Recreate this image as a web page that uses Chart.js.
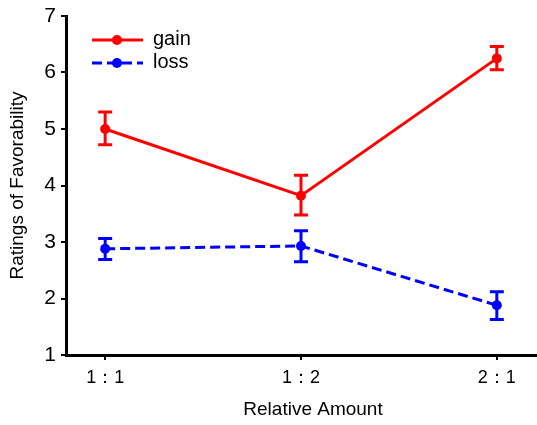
<!DOCTYPE html>
<html>
<head>
<meta charset="utf-8">
<script src="https://cdn.jsdelivr.net/npm/chart.js@4/dist/chart.umd.min.js"></script>
<style>
  html, body { margin: 0; padding: 0; background: #fff; }
  #wrap { width: 537px; height: 425px; }
</style>
</head>
<body>
<div id="wrap"><canvas id="chart" width="537" height="425"></canvas></div>
<script>
// categories on the x axis
const categories = ["1\uFF1A1", "1\uFF1A2", "2\uFF1A1"];
// mean ratings
const gainValues = [5.0, 3.82, 6.25];
const lossValues = [2.88, 2.93, 1.88];
// error bar ends
const gainLow = [4.72, 3.48, 6.05];
const gainHigh = [5.3, 4.18, 6.46];
const lossLow = [2.69, 2.65, 1.63];
const lossHigh = [3.06, 3.2, 2.12];
const yTicks = [1, 2, 3, 4, 5, 6, 7];
const xTitle = "Relative Amount";

const FONT = "Liberation Sans, Arial, sans-serif";

// draws the vertical error bars with caps
const errorBars = {
  id: "errorBars",
  afterDatasetsDraw(chart) {
    const ctx = chart.ctx;
    const xs = chart.scales.x, ys = chart.scales.y;
    chart.data.datasets.forEach(ds => {
      ctx.save();
      ctx.strokeStyle = ds.borderColor;
      ctx.lineWidth = 3;
      ds.data.forEach((p, i) => {
        const x = xs.getPixelForValue(p.x);
        const yl = ys.getPixelForValue(ds.low[i]);
        const yh = ys.getPixelForValue(ds.high[i]);
        ctx.beginPath();
        ctx.moveTo(x, yl); ctx.lineTo(x, yh);
        ctx.moveTo(x - 7, yl); ctx.lineTo(x + 7, yl);
        ctx.moveTo(x - 7, yh); ctx.lineTo(x + 7, yh);
        ctx.stroke();
      });
      ctx.restore();
    });
  }
};

// legend drawn inside the plot, top left, plus the x title (sits right of centre)
const innerLegend = {
  id: "innerLegend",
  afterDraw(chart) {
    const ctx = chart.ctx;
    chart.data.datasets.forEach((ds, i) => {
      const y = 40 + i * 23;
      ctx.save();
      ctx.strokeStyle = ds.borderColor;
      ctx.fillStyle = ds.borderColor;
      ctx.lineWidth = 3;
      ctx.setLineDash(ds.borderDash || []);
      ctx.beginPath();
      ctx.moveTo(92, y); ctx.lineTo(143, y);
      ctx.stroke();
      ctx.setLineDash([]);
      ctx.beginPath();
      ctx.arc(117, y, 5, 0, Math.PI * 2);
      ctx.fill();
      ctx.fillStyle = "#000";
      ctx.font = "20px " + FONT;
      ctx.textBaseline = "middle";
      ctx.fillText(ds.label, 153, y - 1);
      ctx.restore();
    });
    ctx.save();
    ctx.fillStyle = "#000";
    ctx.font = "19px " + FONT;
    ctx.textAlign = "center";
    ctx.textBaseline = "middle";
    ctx.fillText(xTitle, 313, 410);
    ctx.restore();
  }
};

const toPoints = vals => vals.map((v, i) => ({ x: i, y: v }));

new Chart(document.getElementById("chart"), {
  type: "line",
  data: {
    datasets: [
      { label: "gain", data: toPoints(gainValues), low: gainLow, high: gainHigh,
        borderColor: "#ff0000", backgroundColor: "#ff0000", borderWidth: 3,
        pointRadius: 5, pointBorderWidth: 0, pointHoverRadius: 5, tension: 0 },
      { label: "loss", data: toPoints(lossValues), low: lossLow, high: lossHigh,
        borderColor: "#0000ff", backgroundColor: "#0000ff", borderWidth: 3,
        borderDash: [10, 5], pointRadius: 5, pointBorderWidth: 0, pointHoverRadius: 5, tension: 0 }
    ]
  },
  options: {
    responsive: false,
    animation: false,
    events: [],
    layout: { autoPadding: false, padding: { top: 16, right: 1, left: 0, bottom: 0 } },
    plugins: { legend: { display: false }, tooltip: { enabled: false } },
    scales: {
      x: {
        type: "linear",
        min: -0.2, max: 2.2,
        afterBuildTicks: s => { s.ticks = categories.map((c, i) => ({ value: i })); },
        afterFit: s => { s.height = 70; s.paddingLeft = 0; s.paddingRight = 0; },
        ticks: {
          callback: v => categories[v],
          color: "#000", font: { family: FONT, size: 18 }, padding: 7, maxRotation: 0
        },
        grid: { drawOnChartArea: false, drawTicks: true, tickLength: 5, color: "#000", lineWidth: 2 },
        border: { display: true, color: "#000", width: 3 },
        title: { display: false }
      },
      y: {
        min: 1, max: 7,
        afterBuildTicks: s => { s.ticks = yTicks.map(v => ({ value: v })); },
        afterFit: s => { s.width = 66; s.paddingTop = 0; s.paddingBottom = 0; },
        ticks: { color: "#000", font: { family: FONT, size: 21 }, padding: 5 },
        grid: { drawOnChartArea: false, drawTicks: true, tickLength: 5, color: "#000", lineWidth: 2 },
        border: { display: true, color: "#000", width: 3 },
        title: { display: true, text: "Ratings of Favorability", color: "#000",
          font: { family: FONT, size: 19 }, padding: { top: 6, bottom: 4 } }
      }
    }
  },
  plugins: [errorBars, innerLegend]
});
</script>
</body>
</html>
